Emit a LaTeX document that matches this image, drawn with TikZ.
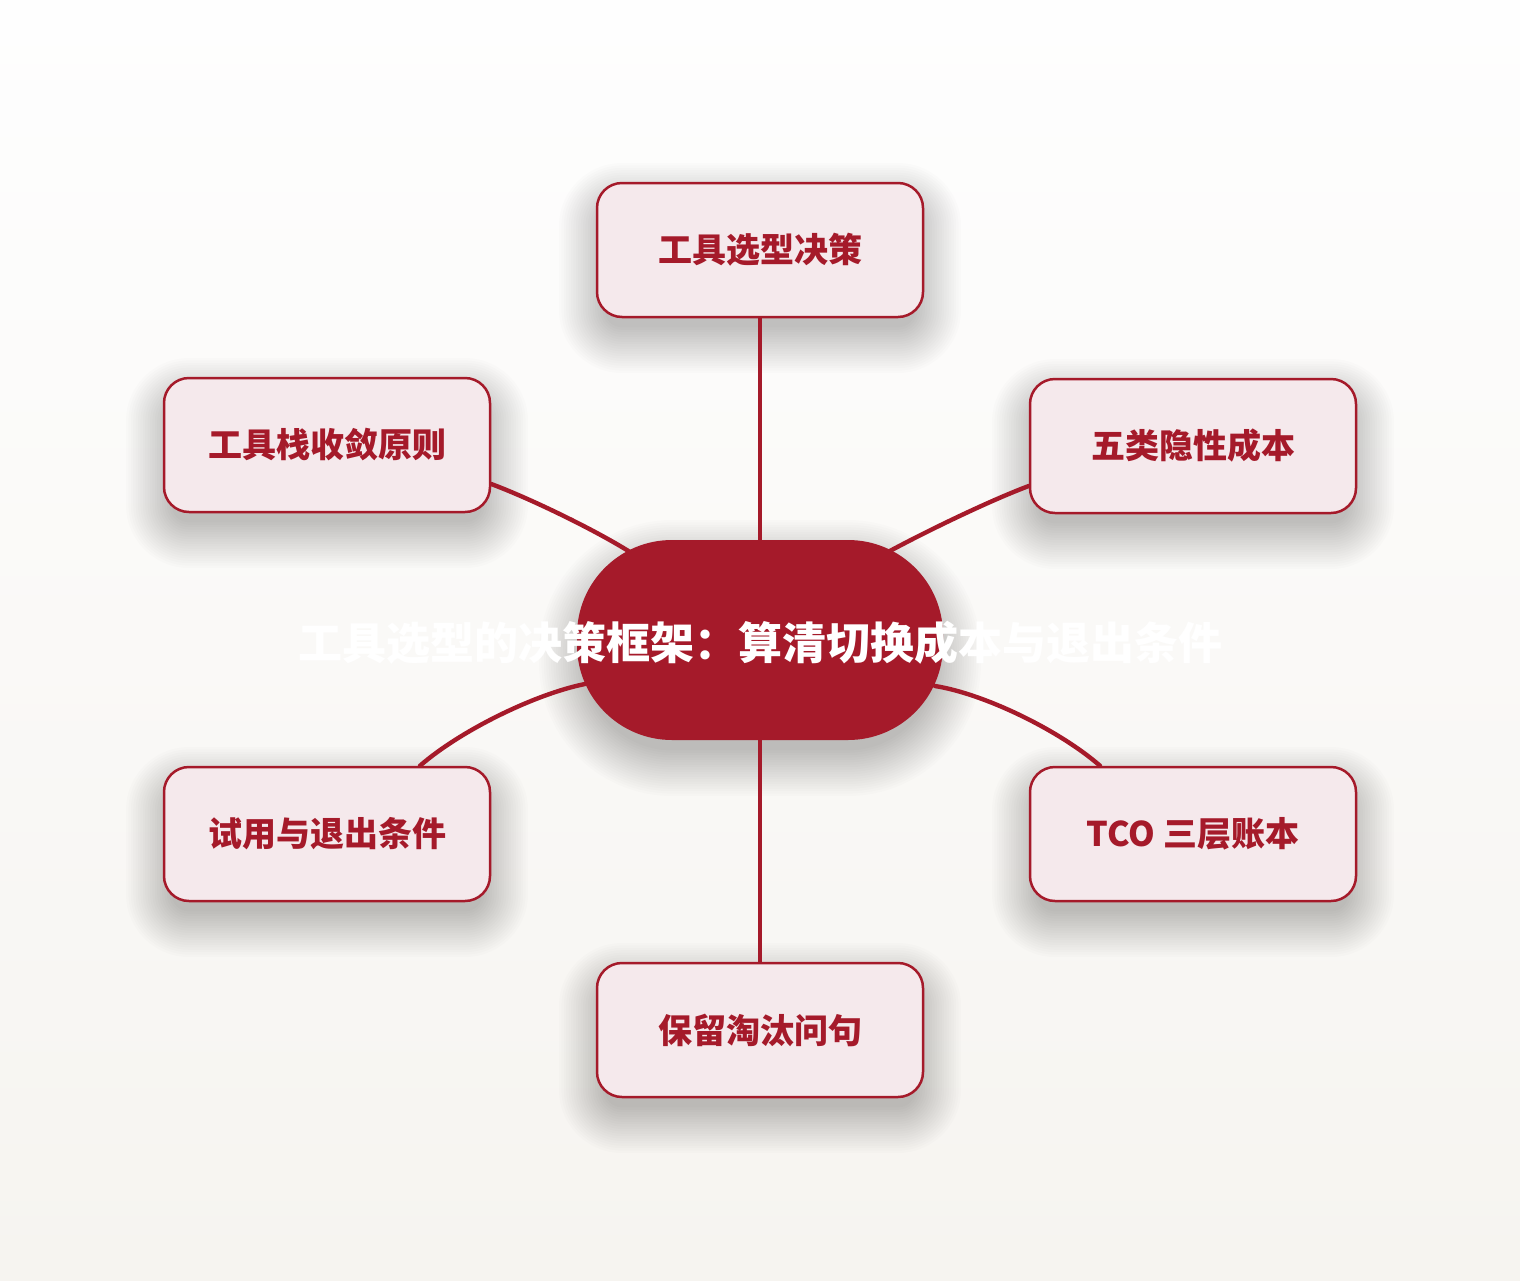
\documentclass[tikz,border=0pt]{standalone}
\usepackage{fontspec}
\newfontfamily\cjk{Noto Sans CJK SC}
\usetikzlibrary{calc}
\definecolor{deepred}{HTML}{A51A2A}
\definecolor{boxfill}{HTML}{F5E9EC}
\definecolor{bgtop}{HTML}{FEFEFE}
\definecolor{bgbot}{HTML}{F6F4F0}
\tikzset{
  box/.style={draw=deepred, line width=1.25pt, fill=boxfill, rounded corners=12.5pt,
    minimum width=163pt, minimum height=67pt, inner sep=0pt,
    text=deepred, font=\cjk\bfseries\fontsize{17pt}{20pt}\selectfont},
  hub/.style={fill=deepred, draw=none, rounded corners=47.5pt,
    minimum width=183pt, minimum height=100pt, inner sep=0pt},
  hubtext/.style={text=white, font=\cjk\bfseries\fontsize{22pt}{26pt}\selectfont, inner sep=0pt},
  link/.style={draw=deepred, line width=2.2pt, line cap=round},
  shadowlayer/.style={fill=black, opacity=0.011}
}
% soft shadow: centre x, centre y, half width, half height, corner radius (all px)
\newcommand\softshade[5]{%
  \foreach \i in {1,...,20}{%
    \pgfmathsetmacro\grow{\i*2.4-10}%
    \pgfmathsetmacro\rr{max(#5+\grow,4)*0.5}%
    \fill[shadowlayer, rounded corners=\rr pt]
      ({#1-#3-\grow},{#2-#4-\grow+18}) rectangle ({#1+#3+\grow},{#2+#4+\grow+18});
  }%
}
\begin{document}
\begin{tikzpicture}[x=0.5pt,y=-0.5pt]
\useasboundingbox (0,0) rectangle (1520,1280);
\shade[top color=bgtop, bottom color=bgbot] (0,0) rectangle (1520,1280);
\softshade{760}{250}{163}{67}{25}
\softshade{327}{445}{163}{67}{25}
\softshade{1193}{446}{163}{67}{25}
\softshade{327}{834}{163}{67}{25}
\softshade{1193}{834}{163}{67}{25}
\softshade{760}{1030}{163}{67}{25}
\softshade{760}{640}{183}{100}{95}
\node[box] (t)  at (760,250)  {工具选型决策};
\node[box] (ul) at (327,445)  {工具栈收敛原则};
\node[box] (ur) at (1193,446) {五类隐性成本};
\node[box] (ll) at (327,834)  {试用与退出条件};
\node[box] (lr) at (1193,834) {TCO 三层账本};
\node[box] (b)  at (760,1030) {保留淘汰问句};
\node[hub] (c) at (760,640) {};
\draw[link] (t.south) -- (c.north);
\draw[link] (c.south) -- (b.north);
\draw[link] ($(ul.east)+(0,39)$) .. controls +(40,15) and +(-35,-22) .. ($(c.center)+(-130,-88)$);
\draw[link] ($(ur.west)+(0,40)$) .. controls +(-40,15) and +(37,-20) .. ($(c.center)+(128,-88)$);
\draw[link] ($(ll.north)+(93,0)$) .. controls +(40,-35) and +(-50,10) .. ($(c.center)+(-175,44)$);
\draw[link] ($(lr.north)+(-93,0)$) .. controls +(-40,-35) and +(50,8) .. ($(c.center)+(175,46)$);
\node[hubtext] (ct) at (760,643) {工具选型的决策框架：算清切换成本与退出条件};
\end{tikzpicture}
\end{document}
